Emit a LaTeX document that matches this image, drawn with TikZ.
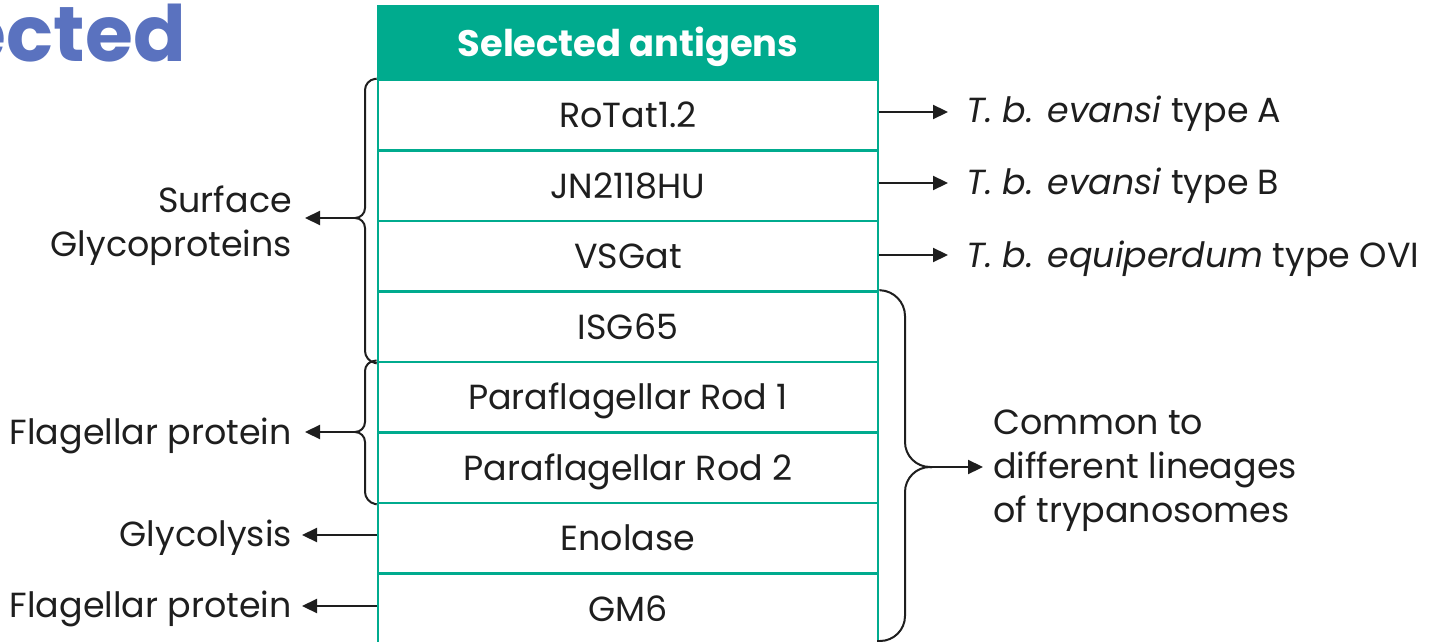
\documentclass[tikz,border=0pt]{standalone}
\usepackage{fontspec}
\setmainfont{Poppins}
\usetikzlibrary{arrows.meta}
\definecolor{tealc}{HTML}{00AB8E}
\definecolor{titleblue}{HTML}{5A72BF}
\definecolor{ink}{HTML}{1E1E1E}
\begin{document}
\begin{tikzpicture}[x=1bp,y=-1bp,
  txt/.style={font=\fontsize{35}{44}\selectfont, text=ink},
  cell/.style={txt, draw=tealc, line width=2.6bp, minimum width=500bp, minimum height=70.5bp,
    inner sep=0, text height=25bp, text depth=0bp},
  lbl/.style={txt, inner sep=0},
  arr/.style={draw=ink, line width=2.2bp, -{Triangle[length=15bp,width=14bp]}},
  brace/.style={draw=ink, line width=2bp}]
\useasboundingbox (0,0) rectangle (1440,642);
\clip (0,0) rectangle (1440,642);

% heading fragment
\node[anchor=base east, inner sep=0, text=titleblue,
  font=\fontsize{78}{78}\selectfont\bfseries] (title) at (186,62) {ected};

% table
\node[fill=tealc, draw=tealc, line width=2.6bp, minimum width=500bp, minimum height=74bp,
  inner sep=0, text=white, text height=28bp, text depth=0bp,
  font=\fontsize{37}{40}\selectfont\bfseries] (head) at (628,43) {Selected antigens};
\node[cell] (r1) at (628,115.25) {RoTat1.2};
\node[cell] (r2) at (628,185.75) {JN2118HU};
\node[cell] (r3) at (628,256.25) {VSGat};
\node[cell] (r4) at (628,326.75) {ISG65};
\node[cell] (r5) at (628,397.25) {Paraflagellar Rod 1};
\node[cell] (r6) at (628,467.75) {Paraflagellar Rod 2};
\node[cell] (r7) at (628,538.25) {Enolase};
\node[cell] (r8) at (628,608.75) {GM6};

% right-hand labels
\node[lbl, anchor=base west] (ta) at (966,123) {\textit{T. b. evansi} type A};
\node[lbl, anchor=base west] (tb) at (966,195) {\textit{T. b. evansi} type B};
\node[lbl, anchor=base west] (tc) at (966,267) {\textit{T. b. equiperdum} type OVI};
\node[lbl, anchor=base west, align=left] (common) at (993,522)
  {Common to\\different lineages\\of trypanosomes};

% left-hand labels
\node[lbl, anchor=base east] (surf) at (292,213) {Surface};
\node[lbl, anchor=base east] (glyp) at (292,256) {Glycoproteins};
\node[lbl, anchor=base east] (flag1) at (292,444) {Flagellar protein};
\node[lbl, anchor=base east] (glyc) at (292,546) {Glycolysis};
\node[lbl, anchor=base east] (flag2) at (292,617) {Flagellar protein};

% arrows to the right
\draw[arr] (r1.east |- 0,112) -- ([xshift=-18bp]ta.west |- 0,112);
\draw[arr] (r2.east |- 0,183) -- ([xshift=-18bp]tb.west |- 0,183);
\draw[arr] (r3.east |- 0,255) -- ([xshift=-18bp]tc.west |- 0,255);

% left braces
\coordinate (tipS) at (355,218);
\coordinate (endS) at (305,218);
\draw[brace, rounded corners=10bp] (r1.north west) -- (365,80) -- (365,218) -- (tipS);
\draw[brace, rounded corners=10bp] (tipS) -- (365,218) -- (365,361) -- (r4.south west);
\draw[arr] (tipS) -- (endS);

\coordinate (tipF) at (355,432);
\coordinate (endF) at (305,432);
\draw[brace, rounded corners=10bp] (r5.north west) -- (365,361) -- (365,432) -- (tipF);
\draw[brace, rounded corners=10bp] (tipF) -- (365,432) -- (365,502) -- (r6.south west);
\draw[arr] (tipF) -- (endF);

% right brace
\coordinate (tipC) at (932,467);
\coordinate (endC) at (983,467);
\coordinate (botC) at (877,641);
\draw[brace, rounded corners=25bp] (r4.north east) -- (905,291) -- (905,467) -- (tipC);
\draw[brace, rounded corners=25bp] (tipC) -- (905,467) -- (905,641) -- (botC);
\draw[arr] (tipC) -- (endC);

% arrows to the left
\coordinate (endE) at (302,535);
\coordinate (endG) at (302,606);
\draw[arr] (r7.west |- endE) -- (endE);
\draw[arr] (r8.west |- endG) -- (endG);
\end{tikzpicture}
\end{document}
